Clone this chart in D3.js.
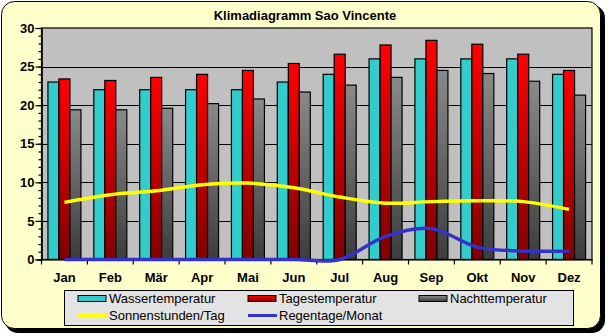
<!DOCTYPE html>
<html><head><meta charset="utf-8">
<script src="https://cdn.jsdelivr.net/npm/d3@7/dist/d3.min.js"></script>
<style>body{margin:0;background:#fff}svg{display:block}</style>
</head><body>
<svg id="c" width="609" height="336"></svg>
<script>
const months = ["Jan","Feb","Mär","Apr","Mai","Jun","Jul","Aug","Sep","Okt","Nov","Dez"];
const wasser = [23,22,22,22,22,23,24,26,26,26,26,24];
const tages  = [23.4,23.2,23.6,24,24.5,25.4,26.6,27.8,28.4,27.9,26.6,24.5];
const nacht  = [19.4,19.4,19.6,20.2,20.8,21.7,22.6,23.6,24.5,24.1,23.1,21.3];
const sonne  = [7.4,8.4,8.9,9.7,9.9,9.3,8.1,7.3,7.5,7.6,7.5,6.5];
const regen  = [0,0,0,0,0,0,0,3,4,1.6,1.1,1.1];
const yTicks = [0,5,10,15,20,25,30];
const title = "Klimadiagramm Sao Vincente";

const svg = d3.select("#c");
const defs = svg.append("defs");
const gr = defs.append("linearGradient").attr("id","gRed").attr("x1",0).attr("y1",0).attr("x2",0).attr("y2",1);
gr.append("stop").attr("offset","0%").attr("stop-color","#ff0000");
gr.append("stop").attr("offset","100%").attr("stop-color","#800000");
const gg = defs.append("linearGradient").attr("id","gGray").attr("x1",0).attr("y1",0).attr("x2",0).attr("y2",1);
gg.append("stop").attr("offset","0%").attr("stop-color","#8a8a8a");
gg.append("stop").attr("offset","100%").attr("stop-color","#3c3c3c");

// frame with shadow
svg.append("rect").attr("x",5).attr("y",5).attr("width",600).attr("height",328).attr("rx",13).attr("fill","#000");
svg.append("rect").attr("x",1.5).attr("y",1.5).attr("width",599).attr("height",327).attr("rx",13)
  .attr("fill","#ffffcc").attr("stroke","#000").attr("stroke-width",1);

svg.append("text").attr("x",305).attr("y",20).attr("text-anchor","middle")
  .attr("font-family","Liberation Sans, Arial, sans-serif").attr("font-weight","bold").attr("font-size",13)
  .text(title);

const L=41.5, R=592, T=28, B=259.5;
const x = d3.scaleBand().domain(months).range([L,R]);
const y = d3.scaleLinear().domain([0,30]).range([B,T]);

svg.append("rect").attr("x",L).attr("y",T).attr("width",R-L).attr("height",B-T).attr("fill","#c0c0c0");
// gridlines
svg.append("g").selectAll("line").data(yTicks.filter(d=>d>0&&d<30)).join("line")
  .attr("x1",L).attr("x2",R).attr("y1",d=>Math.round(y(d))+0.5).attr("y2",d=>Math.round(y(d))+0.5)
  .attr("stroke","#000").attr("stroke-width",1.2);

const bw = x.bandwidth();
const barW = 11;
const off = (bw - 3*barW)/2;
const series = [
  {vals:wasser, fill:"#33cccc"},
  {vals:tages, fill:"url(#gRed)"},
  {vals:nacht, fill:"url(#gGray)"}
];
series.forEach((s,i)=>{
  svg.append("g").selectAll("rect").data(s.vals).join("rect")
    .attr("x",(d,j)=>x(months[j])+off+i*barW)
    .attr("y",d=>y(d)).attr("width",barW).attr("height",d=>B-y(d))
    .attr("fill",s.fill).attr("stroke","#000").attr("stroke-width",1.2);
});

// plot border
svg.append("rect").attr("x",L).attr("y",T).attr("width",R-L).attr("height",B-T).attr("fill","none")
  .attr("stroke","#000").attr("stroke-width",1.2);

// axes
const yAxis = svg.append("g").attr("transform",`translate(${L},0)`)
  .call(d3.axisLeft(y).tickValues(yTicks).tickSize(6).tickFormat(d3.format("d")));
const yMinor = svg.append("g").attr("transform",`translate(${L},0)`)
  .call(d3.axisLeft(y).tickValues(d3.range(0,31,1)).tickSize(3).tickFormat(""));
const xAxis = svg.append("g").attr("transform",`translate(0,${B})`)
  .call(d3.axisBottom(x).tickSize(0).tickPadding(10));
// boundary ticks
svg.append("g").selectAll("line").data(months.concat(["end"])).join("line")
  .attr("x1",(d,i)=>L+i*bw).attr("x2",(d,i)=>L+i*bw).attr("y1",B).attr("y2",B+5)
  .attr("stroke","#000").attr("stroke-width",1.2);
[yAxis,yMinor,xAxis].forEach(a=>{
  a.select(".domain").attr("stroke","#000").attr("stroke-width",1.2);
  a.selectAll(".tick line").attr("stroke","#000").attr("stroke-width",1.2);
  a.selectAll("text").attr("font-family","Liberation Sans, Arial, sans-serif").attr("font-weight","bold")
   .attr("font-size",13).attr("fill","#000");
});
yAxis.selectAll("text").attr("x",-7);
xAxis.selectAll("text").attr("dy","0.95em");

// lines
const line = d3.line().x((d,i)=>x(months[i])+bw/2).y(d=>y(d)).curve(d3.curveCardinal.tension(0));
svg.append("path").attr("d",line(sonne)).attr("fill","none").attr("stroke","#ffff00").attr("stroke-width",3.5);
svg.append("path").attr("d",line(regen)).attr("fill","none").attr("stroke","#3333cc").attr("stroke-width",3.5);

// legend
const lg = svg.append("g");
lg.append("rect").attr("x",64.5).attr("y",290.5).attr("width",509).attr("height",35)
  .attr("fill","#e3e3e3").attr("stroke","#000").attr("stroke-width",1);
const legendItems = [
  {name:"Wassertemperatur", type:"rect", fill:"#33cccc", x:78, y:298.5},
  {name:"Tagestemperatur", type:"rect", fill:"url(#gRed)", x:248, y:298.5},
  {name:"Nachttemperatur", type:"rect", fill:"url(#gGray)", x:419, y:298.5},
  {name:"Sonnenstunden/Tag", type:"line", fill:"#ffff00", x:78, y:315.5},
  {name:"Regentage/Monat", type:"line", fill:"#3333cc", x:248, y:315.5}
];
legendItems.forEach(it=>{
  if(it.type==="rect"){
    lg.append("rect").attr("x",it.x).attr("y",it.y-3).attr("width",28).attr("height",6)
      .attr("fill",it.fill).attr("stroke","#000").attr("stroke-width",1);
  } else {
    lg.append("line").attr("x1",it.x).attr("x2",it.x+29).attr("y1",it.y).attr("y2",it.y)
      .attr("stroke",it.fill).attr("stroke-width",3);
  }
  lg.append("text").attr("x",it.x+31).attr("y",it.y+4.5)
    .attr("font-family","Liberation Sans, Arial, sans-serif").attr("font-size",13).attr("fill","#000")
    .text(it.name);
});
</script>
</body></html>
